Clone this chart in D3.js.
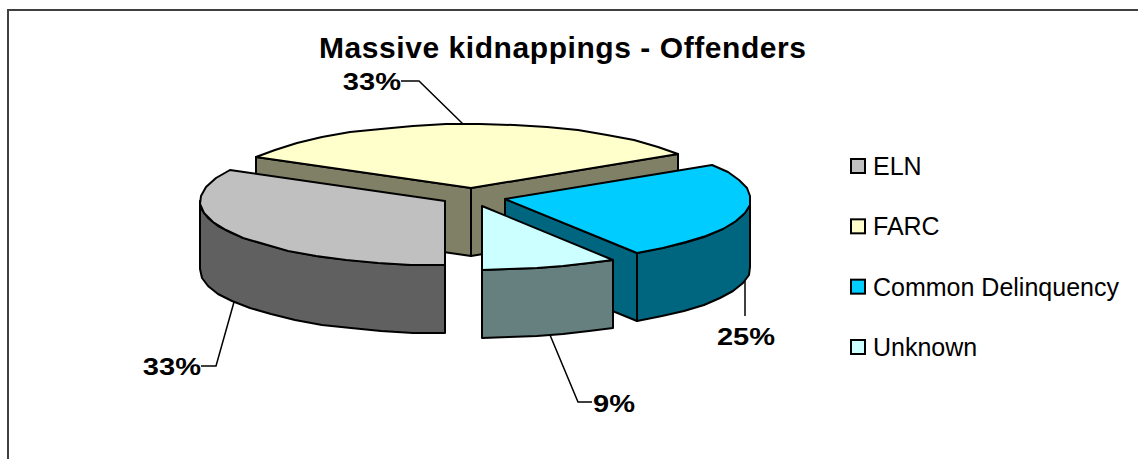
<!DOCTYPE html>
<html>
<head>
<meta charset="utf-8">
<title>Massive kidnappings - Offenders</title>
<style>
html, body { margin: 0; background: #fff; }
svg { display: block; }
text { font-family: "Liberation Sans", Arial, sans-serif; fill: #000; }
</style>
</head>
<body>
<svg id="chart" width="1138" height="459"></svg>
<script src="https://cdnjs.cloudflare.com/ajax/libs/d3/7.8.5/d3.min.js"></script>
<script>
var chart_title = 'Massive kidnappings - Offenders';
var categories = ['ELN', 'FARC', 'Common Delinquency', 'Unknown'];
var shares = [33, 33, 25, 9];
var top_colors = ['#c0c0c0', '#ffffcc', '#00ccff', '#ccffff'];
var side_colors = ['#606060', '#808066', '#006680', '#668080'];
// ELN sits a little closer to the middle than the others
var explode = [0.13, 0.14, 0.14, 0.14];

// label elbow and text offsets per slice, relative to the point on the rim
var leader_steps = [
	[[-18, 64], [-33, 64]],
	[[-44, -43], [-62, -43]],
	[[0, 35], [0, 35]],
	[[28, 67], [42, 67]]
];
var label_offsets = [[0, 0], [0, 0], [1, 20], [1, 1]];
var label_anchor = ['end', 'end', 'middle', 'start'];
// back slices first
var draw_order = [1, 2, 0, 3];

var cx = 472, cy = 197, rx = 245, ry = 64, depth = 68;

var svg = d3.select('#chart');

// unit circle -> screen
var scaleX = d3.scaleLinear().domain([-1, 1]).range([cx - rx, cx + rx]);
var scaleY = d3.scaleLinear().domain([-1, 1]).range([cy - ry, cy + ry]);

var pie = d3.pie().sort(null).startAngle(Math.PI).endAngle(3 * Math.PI);
var slices = pie(shares);

var line = d3.line().x(function(d){ return d[0]; }).y(function(d){ return d[1]; });

function rim(d, a, r, drop){
	var mid = (d.startAngle + d.endAngle) / 2;
	var e = explode[d.index];
	var ux = Math.sin(a) * r + Math.sin(mid) * e;
	var uy = -Math.cos(a) * r - Math.cos(mid) * e;
	return [Math.round(scaleX(ux)), Math.round(scaleY(uy)) + (drop || 0)];
}

function arcAngles(a0, a1){
	var n = Math.max(1, Math.ceil((a1 - a0) / (8 * Math.PI / 180)));
	return d3.range(n + 1).map(function(i){ return a0 + (a1 - a0) * i / n; });
}

function wallPath(d){
	// only the stretch of rim facing the viewer (90 to 270 degrees, and its next turn)
	var parts = [];
	[[Math.PI / 2, 3 * Math.PI / 2], [5 * Math.PI / 2, 7 * Math.PI / 2]].forEach(function(w){
		var a0 = Math.max(d.startAngle, w[0]), a1 = Math.min(d.endAngle, w[1]);
		if(a1 <= a0) return;
		var angles = arcAngles(a0, a1);
		var upper = angles.map(function(a){ return rim(d, a, 1, 0); });
		var lower = angles.slice().reverse().map(function(a){ return rim(d, a, 1, depth); });
		parts.push(line(upper.concat(lower)) + 'Z');
	});
	return parts.join('');
}

function cutPath(d, a){
	return line([rim(d, a, 0, 0), rim(d, a, 1, 0), rim(d, a, 1, depth), rim(d, a, 0, depth)]) + 'Z';
}

function topPath(d){
	var pts = arcAngles(d.startAngle, d.endAngle).map(function(a){ return rim(d, a, 1, 0); });
	return line([rim(d, d.startAngle, 0, 0)].concat(pts)) + 'Z';
}

// chart frame, open on the right and at the bottom
svg.append('path')
	.attr('d', 'M8,459V10H1138')
	.attr('fill', 'none')
	.attr('stroke', '#404040')
	.attr('stroke-width', 2);

svg.append('text')
	.attr('x', 319)
	.attr('y', 58)
	.attr('font-size', 30)
	.attr('font-weight', 'bold')
	.attr('textLength', 487)
	.text(chart_title);

var g = svg.selectAll('g.slice')
	.data(draw_order)
	.enter()
	.append('g')
	.attr('class', 'slice')
	.attr('stroke', '#000')
	.attr('stroke-width', 2)
	.attr('stroke-linejoin', 'round');

g.each(function(i){
	var d = slices[i], el = d3.select(this);
	// cut faces turned towards the viewer
	if(Math.sin(d.startAngle) < -1e-6){
		el.append('path').attr('d', cutPath(d, d.startAngle)).attr('fill', side_colors[i]);
	}
	if(Math.sin(d.endAngle) > 1e-6){
		el.append('path').attr('d', cutPath(d, d.endAngle)).attr('fill', side_colors[i]);
	}
	el.append('path').attr('d', wallPath(d)).attr('fill', side_colors[i]);
	el.append('path').attr('d', topPath(d)).attr('fill', top_colors[i]);
});

// leader lines and percentage labels
slices.forEach(function(d, i){
	var mid = (d.startAngle + d.endAngle) / 2;
	var front = Math.cos(mid) < 0 || Math.abs(Math.sin(mid)) > 0.9;
	var start = rim(d, mid, 1, front ? depth : 0);
	var pts = [start].concat(leader_steps[i].map(function(s){ return [start[0] + s[0], start[1] + s[1]]; }));
	svg.append('path')
		.attr('d', line(pts))
		.attr('fill', 'none')
		.attr('stroke', '#000')
		.attr('stroke-width', 1.5);
	var last = pts[pts.length - 1];
	var label = svg.append('text')
		.attr('x', last[0] + label_offsets[i][0])
		.attr('y', last[1] + label_offsets[i][1])
		.attr('dy', '0.36em')
		.attr('text-anchor', label_anchor[i])
		.attr('font-size', 24)
		.attr('font-weight', 'bold')
		.text(d.value + '%');
	// the labels are drawn wider than the font's own proportions
	label.attr('textLength', label.node().getComputedTextLength() * 1.21)
		.attr('lengthAdjust', 'spacingAndGlyphs');
});

// legend
var legendY = d3.scalePoint().domain(categories).range([166, 347]);

var legend = svg.selectAll('g.legend')
	.data(categories)
	.enter()
	.append('g')
	.attr('class', 'legend')
	.attr('transform', function(d){ return 'translate(0,' + legendY(d) + ')'; });

legend.append('rect')
	.attr('x', 851)
	.attr('y', -7)
	.attr('width', 14)
	.attr('height', 14)
	.attr('fill', function(d, i){ return top_colors[i]; })
	.attr('stroke', '#000')
	.attr('stroke-width', 2);

legend.append('text')
	.attr('x', 873)
	.attr('dy', '0.36em')
	.attr('font-size', 25)
	.text(function(d){ return d; });
</script>
</body>
</html>
